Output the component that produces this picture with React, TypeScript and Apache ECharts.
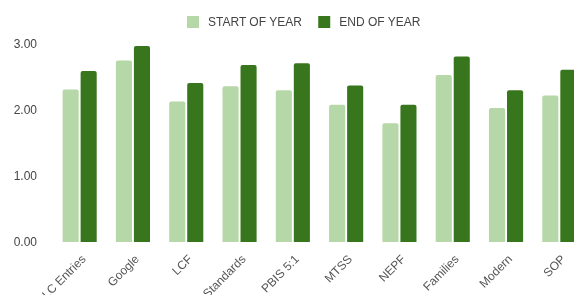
import React, { useEffect, useRef } from "react";
import * as echarts from "echarts";

const categories = ["PLC Entries", "Google", "LCF", "Standards", "PBIS 5:1", "MTSS", "NEPF", "Families", "Modern", "SOP"];
const startOfYear = [2.31, 2.75, 2.13, 2.36, 2.3, 2.08, 1.8, 2.53, 2.03, 2.22];
const endOfYear = [2.59, 2.97, 2.41, 2.68, 2.71, 2.37, 2.08, 2.81, 2.3, 2.61];
const seriesNames = ["START OF YEAR", "END OF YEAR"];

export default function App() {
  const ref = useRef<HTMLDivElement>(null);
  useEffect(() => {
    if (!ref.current) return;
    const chart = echarts.init(ref.current, undefined, { renderer: "svg" });
    chart.setOption({
      animation: false,
      textStyle: { fontFamily: "Liberation Sans, Arial, sans-serif" },
      legend: {
        top: 11,
        left: 182,
        itemWidth: 12,
        itemHeight: 12,
        itemGap: 16,
        icon: "rect",
        textStyle: { color: "#444", fontSize: 12, padding: [0, 0, 0, 4] },
        data: seriesNames,
      },
      grid: [
        { left: 53, top: 44, width: 533, height: 198, containLabel: false, outerBoundsMode: "none" },
        { left: 57, top: 44, width: 533, height: 198, containLabel: false, outerBoundsMode: "none" },
      ],
      xAxis: [
        {
          type: "category",
          data: categories,
          gridIndex: 0,
          axisLine: { show: false },
          axisTick: { show: false },
          axisLabel: { show: false },
        },
        {
          type: "category",
          data: categories,
          gridIndex: 1,
          axisLine: { show: false },
          axisTick: { show: false },
          axisLabel: { rotate: 45, color: "#555", fontSize: 12, margin: 15, interval: 0 },
        },
      ],
      yAxis: [
        {
          type: "value",
          gridIndex: 0,
          min: 0,
          max: 3,
          interval: 1,
          splitLine: { show: false },
          axisLine: { show: false },
          axisTick: { show: false },
          axisLabel: { color: "#444", fontSize: 12, margin: 16, formatter: (v: number) => v.toFixed(2) },
        },
        {
          type: "value",
          gridIndex: 1,
          min: 0,
          max: 3,
          interval: 1,
          show: false,
        },
      ],
      series: [
        {
          name: seriesNames[0],
          type: "bar",
          data: startOfYear,
          itemStyle: { color: "#b6d7a8", borderRadius: [2, 2, 0, 0] },
          barGap: "12%",
          barCategoryGap: "36%",
        },
        {
          name: seriesNames[1],
          type: "bar",
          data: endOfYear,
          itemStyle: { color: "#38761d", borderRadius: [2, 2, 0, 0] },
          barGap: "12%",
          barCategoryGap: "36%",
        },
      ],
    });
    return () => chart.dispose();
  }, []);
  return <div ref={ref} style={{ position: "fixed", left: 0, top: 0, width: 574, height: 295 }} />;
}
